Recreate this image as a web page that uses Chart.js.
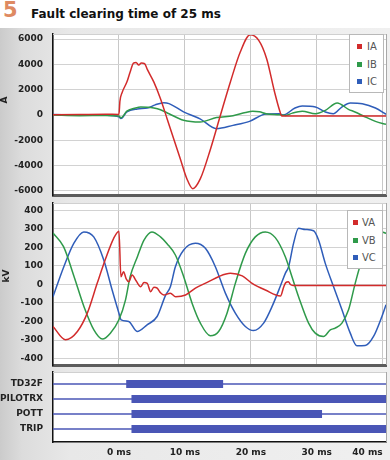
<!DOCTYPE html>
<html>
<head>
<meta charset="utf-8">
<script src="https://cdn.jsdelivr.net/npm/chart.js@4.4.1/dist/chart.umd.min.js"></script>
<style>
  body { margin: 0; width: 390px; height: 460px; position: relative; overflow: hidden; background: #fff; font-family: 'DejaVu Sans', sans-serif; }
  #panel { position: absolute; left: 0; top: 28px; width: 390px; height: 432px;
           background: linear-gradient(to right, #cbcbcb 0, #dcdcdc 22px, #e8e8e8 70px, #f0f0f0 100%); }
  canvas { position: absolute; left: 0; }
  .num { position: absolute; left: 3px; top: 0; line-height: 21px; font-size: 21px; font-weight: bold; color: #de8a62; }
  .ttl { position: absolute; left: 31px; top: 8px; line-height: 12px; font-size: 12px; font-weight: bold; color: #111; white-space: nowrap; }
  .axt { position: absolute; font-size: 9px; font-weight: bold; color: #222; transform: rotate(-90deg); transform-origin: center; }
  .legend { position: absolute; background: #fff; border: 1px solid #b8b8b8; box-sizing: border-box; }
  .legend div { position: absolute; font-size: 10px; line-height: 10px; color: #555; }
  .legend span { position: absolute; width: 5px; height: 5px; top: 2px; }
</style>
</head>
<body>
<div id="panel"></div>
<div class="num">5</div>
<div class="ttl">Fault clearing time of 25 ms</div>
<canvas id="cur" width="390" height="170" style="top:28px"></canvas>
<canvas id="volt" width="390" height="170" style="top:198px"></canvas>
<canvas id="dig" width="390" height="93" style="top:367px"></canvas>
<div class="axt" style="left:1px; top:95px;">A</div>
<div class="axt" style="left:0px; top:271px;">kV</div>
<div class="legend" id="leg1" style="left:349px; top:34px; width:35px; height:59px;"></div>
<div class="legend" id="leg2" style="left:347px; top:210px; width:36px; height:59px;"></div>
<script>
// Colours
const RED = '#d22b2b';
const GREEN = '#2f9a4a';
const BLUE = '#2f5db9';
const DIG = '#4a56b6';

// Time axis (ms)
const timeTicks = [-10, 0, 10, 20, 30, 40];
const timeLabels = ['', '0 ms', '10 ms', '20 ms', '30 ms', '40 ms'];

// Currents (A)
const iaT = [-10, -6, -2, 0, 0.15, 0.5, 1.2, 1.7, 2.2, 2.6, 3.0, 3.4, 3.9, 4.3, 5.3, 6.3, 7.3, 8.3, 9.3, 10.3, 11.2, 12.35, 13.9, 15.4, 16.9, 18.4, 19.9, 21.2, 22.4, 23.6, 24.4, 24.7, 40.5];
const iaV = [20, 40, 60, 40, 1100, 1800, 2600, 3400, 4100, 4150, 3950, 4100, 4050, 3600, 2600, 1290, -290, -1870, -3450, -5030, -5820, -5030, -2660, 0, 2610, 4980, 6340, 5900, 4450, 1820, 300, -80, -80];
const ibT = [-10, -6, -2, 0, 0.3, 1.2, 2.5, 3.3, 4.3, 5.3, 6.3, 7.6, 9.8, 12.3, 14.8, 17.3, 19.2, 20.3, 21.3, 22.3, 24.3, 25.3, 26.3, 27.8, 29.8, 31.3, 33.1, 34.8, 35.8, 37.4, 38.9, 40.5];
const ibV = [0, -50, -40, -80, -220, 300, 550, 630, 620, 560, 420, 100, -420, -560, -200, -60, 200, 290, 250, 100, 20, -30, 150, 290, 100, 370, 950, 450, 240, -160, -500, -740];
const icT = [-10, -6, -2, 0, 0.3, 1.2, 2.8, 4.3, 5.5, 6.8, 7.6, 9.8, 12.3, 14.8, 17.3, 19.8, 22.3, 24.3, 24.9, 26.7, 27.8, 29.8, 31.3, 32.5, 33.8, 35.1, 36.9, 38.9, 40.5];
const icV = [40, 0, -20, -150, -280, 250, 480, 550, 800, 970, 900, 250, -300, -1080, -820, -500, 80, 100, 0, 550, 710, 630, 240, 100, 630, 950, 890, 550, 60];

// Voltages (kV)
const vaT = [-10, -8.1, -6.3, -4.8, -3.3, -2.0, -0.8, 0, 0.3, 0.7, 1.1, 1.5, 2.0, 2.6, 3.3, 3.8, 4.3, 4.8, 5.3, 5.8, 6.3, 6.8, 7.8, 8.6, 10.1, 11.6, 13.6, 15.1, 16.9, 18.7, 20.2, 22.2, 24.5, 25.0, 25.3, 25.7, 26.0, 26.4, 40.5];
const vaV = [-227, -299, -254, -155, 6, 141, 249, 288, 42, 69, 30, 15, 51, 20, -12, 10, 6, -39, -15, -20, -45, -57, -47, -66, -57, -20, 15, 42, 60, 46, 6, -30, -62, -12, 10, 15, 0, -5, -5];
const vbT = [-10, -8.4, -6.8, -5.3, -3.8, -2.5, -1.3, 0, 1.0, 1.7, 2.8, 3.8, 5.0, 6.3, 7.3, 8.56, 9.82, 11.09, 12.35, 13.86, 15.12, 16.39, 17.65, 19.17, 20.68, 22.2, 23.71, 25.23, 26.24, 27.24, 28.76, 29.77, 31.03, 32.05, 32.8, 33.82, 34.82, 35.83, 36.85, 38.36, 39.88, 40.5];
const vbV = [278, 204, 42, -120, -245, -295, -263, -191, -83, 42, 150, 240, 284, 257, 220, 159, 42, -101, -209, -277, -254, -155, 6, 168, 257, 284, 253, 150, 42, -66, -209, -263, -281, -245, -236, -209, -137, 6, 132, 240, 284, 276];
const vcT = [-10, -8.36, -6.85, -5.33, -3.82, -2.3, -1.03, 0, 0.33, 1.48, 2.76, 4.27, 5.79, 7.05, 7.8, 8.56, 9.82, 11.59, 13.11, 14.62, 16.14, 17.65, 19.17, 20.42, 21.94, 23.21, 24.47, 25.23, 25.73, 26.48, 27.24, 28.26, 29.52, 30.27, 31.29, 32.55, 33.82, 35.08, 36.09, 37.35, 38.61, 39.88, 40.5];
const vcV = [-66, 96, 222, 284, 257, 132, -30, -155, -191, -200, -254, -218, -173, -60, -12, 96, 186, 222, 195, 96, -47, -155, -227, -249, -209, -120, -10, 60, 96, 222, 303, 297, 290, 240, 114, -12, -137, -263, -331, -330, -281, -173, -110];

// Digital channels
const digNames = ['TD32F', 'PILOTRX', 'POTT', 'TRIP'];
const digRow = [4, 3, 2, 1];
const digOn = [1.1, 1.9, 1.9, 1.9];
const digOff = [15.8, 40.5, 30.8, 40.5];

const curTicks = [-6000, -4000, -2000, 0, 2000, 4000, 6000];
const voltTicks = [-400, -300, -200, -100, 0, 100, 200, 300, 400];

const tickFont = { family: 'DejaVu Sans', size: 9, weight: 'bold' };

function series(t, v) {
    return t.map((x, i) => ({ x: x, y: v[i] }));
}

// white plot area + light top/right frame
const frame = {
    id: 'frame',
    beforeDraw(chart) {
        const a = chart.chartArea;
        const ctx = chart.ctx;
        ctx.save();
        ctx.fillStyle = '#fff';
        ctx.fillRect(a.left, a.top, a.right - a.left, a.bottom - a.top);
        ctx.restore();
    },
    afterDraw(chart) {
        const a = chart.chartArea;
        const ctx = chart.ctx;
        ctx.save();
        ctx.strokeStyle = '#a8a8a8';
        ctx.lineWidth = 1;
        ctx.beginPath();
        ctx.moveTo(a.right + 0.5, a.top);
        ctx.lineTo(a.right + 0.5, a.bottom);
        ctx.stroke();
        ctx.strokeStyle = '#d0d0d0';
        ctx.beginPath();
        ctx.moveTo(a.left, a.top + 0.5);
        ctx.lineTo(a.right, a.top + 0.5);
        ctx.stroke();
        ctx.restore();
    }
};

function xScale(showLabels, borderColor, borderWidth, showGrid) {
    return {
        type: 'linear',
        min: -10,
        max: 40.5,
        afterBuildTicks: s => { s.ticks = timeTicks.map(v => ({ value: v })); },
        afterFit: s => { s.height = showLabels ? 18 : 0; s.paddingLeft = 0; s.paddingRight = 0; },
        ticks: {
            display: showLabels,
            align: 'inner',
            padding: 5,
            color: '#222',
            font: tickFont,
            callback: (v) => timeLabels[timeTicks.indexOf(v)]
        },
        grid: { display: showGrid, color: '#c8c8c8', drawTicks: false },
        border: { color: borderColor, width: borderWidth }
    };
}

function yScale(min, max, ticks, labelFn) {
    return {
        min: min,
        max: max,
        afterBuildTicks: s => { s.ticks = ticks.map(v => ({ value: v })); },
        afterFit: s => { s.width = 53; s.paddingTop = 0; s.paddingBottom = 0; },
        ticks: { color: '#222', font: tickFont, padding: 10, callback: labelFn },
        grid: { color: '#d2d2d2', drawTicks: false },
        border: { color: '#111', width: 1.5 }
    };
}

const baseOptions = {
    responsive: false,
    animation: false,
    plugins: { legend: { display: false }, tooltip: { enabled: false } },
    elements: {
        point: { radius: 0 },
        line: { borderWidth: 1.5, cubicInterpolationMode: 'monotone' }
    }
};

// Currents chart
new Chart(document.getElementById('cur'), {
    type: 'line',
    data: {
        datasets: [
            { label: 'IA', data: series(iaT, iaV), borderColor: RED },
            { label: 'IB', data: series(ibT, ibV), borderColor: GREEN },
            { label: 'IC', data: series(icT, icV), borderColor: BLUE }
        ]
    },
    options: Object.assign({}, baseOptions, {
        layout: { padding: { top: 6, bottom: 3, right: 4 } },
        scales: {
            x: xScale(false, '#5c5c5c', 3, true),
            y: yScale(-6320, 6400, curTicks, v => String(v))
        }
    }),
    plugins: [frame]
});

// Voltages chart
new Chart(document.getElementById('volt'), {
    type: 'line',
    data: {
        datasets: [
            { label: 'VA', data: series(vaT, vaV), borderColor: RED },
            { label: 'VB', data: series(vbT, vbV), borderColor: GREEN },
            { label: 'VC', data: series(vcT, vcV), borderColor: BLUE }
        ]
    },
    options: Object.assign({}, baseOptions, {
        layout: { padding: { top: 5, bottom: 3, right: 4 } },
        scales: {
            x: xScale(false, '#5c5c5c', 3, true),
            y: yScale(-435, 440, voltTicks, v => String(v))
        }
    }),
    plugins: [frame]
});

// Digital channels chart
const digSets = [];
digNames.forEach((name, i) => {
    digSets.push({ label: name, data: [{ x: -10, y: digRow[i] }, { x: 40.5, y: digRow[i] }], borderColor: DIG, borderWidth: 1.5 });
    digSets.push({ label: name + ' on', data: [{ x: digOn[i], y: digRow[i] }, { x: digOff[i], y: digRow[i] }], borderColor: DIG, borderWidth: 8, borderCapStyle: 'butt' });
});

const digY = yScale(0.133, 4.8, digRow, v => digNames[digRow.indexOf(v)]);
digY.grid = { display: false, drawTicks: false };

new Chart(document.getElementById('dig'), {
    type: 'line',
    data: { datasets: digSets },
    options: Object.assign({}, baseOptions, {
        layout: { padding: { top: 5, right: 4 } },
        scales: {
            x: xScale(true, '#111', 1.5, false),
            y: digY
        }
    }),
    plugins: [frame]
});

// Legends
function buildLegend(id, names, colors, markX, textX) {
    const box = document.getElementById(id);
    names.forEach((n, i) => {
        const row = document.createElement('div');
        row.style.top = (7 + i * 17.5) + 'px';
        row.style.left = textX + 'px';
        row.textContent = n;
        const mark = document.createElement('span');
        mark.style.left = (markX - textX) + 'px';
        mark.style.background = colors[i];
        row.appendChild(mark);
        box.appendChild(row);
    });
}
buildLegend('leg1', ['IA', 'IB', 'IC'], [RED, GREEN, BLUE], 7, 17);
buildLegend('leg2', ['VA', 'VB', 'VC'], [RED, GREEN, BLUE], 5, 14);
</script>
</body>
</html>
